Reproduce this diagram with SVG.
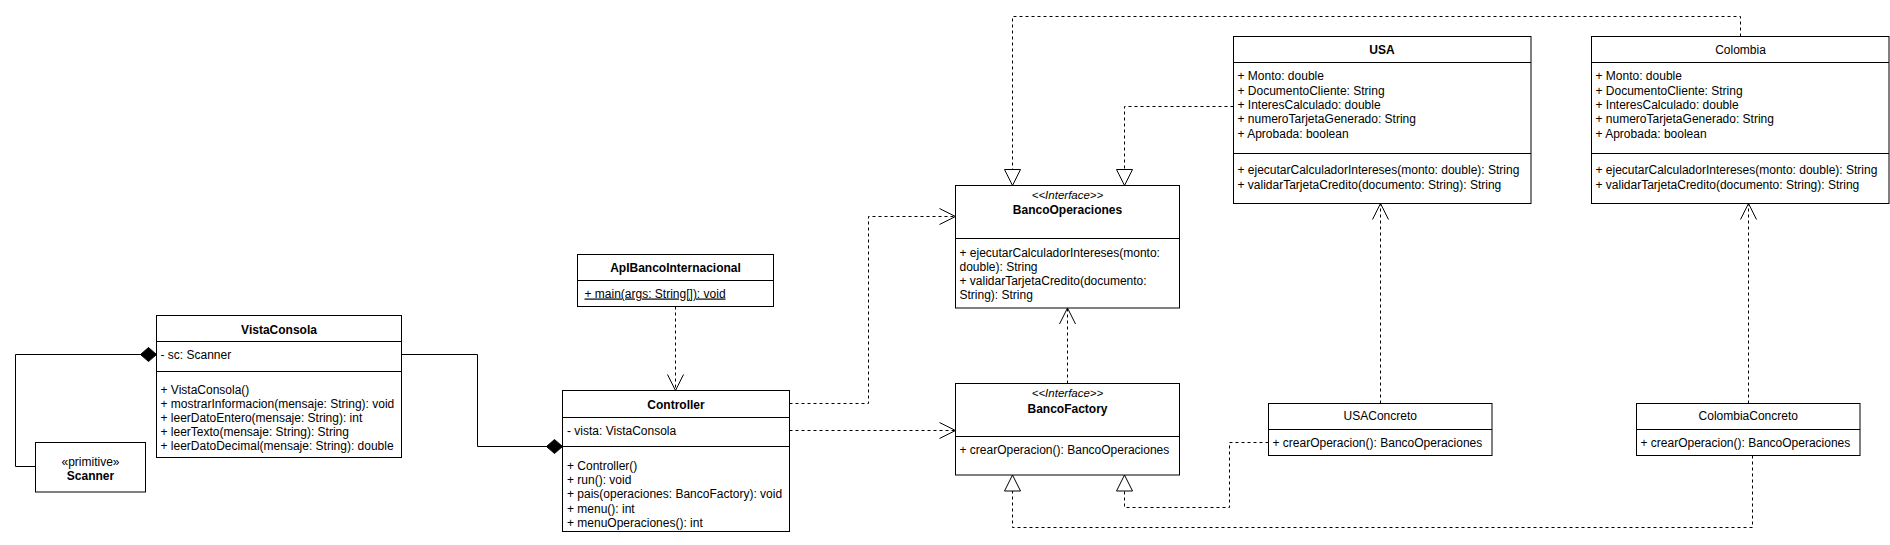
<svg xmlns="http://www.w3.org/2000/svg" width="1890" height="545" viewBox="0 0 1890 545">
<style>
text{font-family:"Liberation Sans",Arial,Helvetica,sans-serif;font-size:12px;fill:#000}
.t{text-anchor:middle;font-weight:bold}
.n{text-anchor:middle}
.st{text-anchor:middle;font-style:italic;font-size:11.5px}
.box{fill:#fff;stroke:#000;stroke-width:1}
.ln{stroke:#000;stroke-width:1;fill:none}
.c{fill:none;stroke:#000;stroke-width:1}
.d{stroke-dasharray:3 3}
.u{text-decoration:underline}
</style>
<defs>
<marker id="open" markerUnits="userSpaceOnUse" markerWidth="20" markerHeight="20" viewBox="-18 -10 20 20" refX="0" refY="0" orient="auto" overflow="visible">
<path d="M-16,-8 L0,0 L-16,8" fill="none" stroke="#000" stroke-width="1" stroke-dasharray="none"/>
</marker>
<marker id="tri" markerUnits="userSpaceOnUse" markerWidth="20" markerHeight="20" viewBox="-18 -10 20 20" refX="0" refY="0" orient="auto" overflow="visible">
<path d="M-16,-8 L0,0 L-16,8 Z" fill="#fff" stroke="#000" stroke-width="1" stroke-dasharray="none"/>
</marker>
<marker id="dia" markerUnits="userSpaceOnUse" markerWidth="20" markerHeight="20" viewBox="-18 -10 20 20" refX="0" refY="0" orient="auto" overflow="visible">
<path d="M0,0 L-8,-7 L-16,0 L-8,7 Z" fill="#000" stroke="#000" stroke-width="1" stroke-dasharray="none"/>
</marker>
</defs>
<rect width="1890" height="545" fill="#fff"/>

<g id="Scanner">
<rect class="box" x="35.5" y="442.5" width="110" height="49.5"/>
<text class="n" x="90.5" y="465.5">«primitive»</text>
<text class="t" x="90.5" y="479.5">Scanner</text>
</g>

<g id="VistaConsola">
<rect class="box" x="156.5" y="315.5" width="245" height="142"/>
<line class="ln" x1="156.5" y1="341.5" x2="401.5" y2="341.5"/>
<line class="ln" x1="156.5" y1="371.5" x2="401.5" y2="371.5"/>
<text class="t" x="279" y="333.5">VistaConsola</text>
<text x="160.5" y="358.5">- sc: Scanner</text>
<text x="160.5" y="393.6">+ VistaConsola()</text>
<text x="160.5" y="407.8">+ mostrarInformacion(mensaje: String): void</text>
<text x="160.5" y="422">+ leerDatoEntero(mensaje: String): int</text>
<text x="160.5" y="436.2">+ leerTexto(mensaje: String): String</text>
<text x="160.5" y="450.4">+ leerDatoDecimal(mensaje: String): double</text>
</g>

<g id="ApIBancoInternacional">
<rect class="box" x="577.5" y="254.5" width="196" height="52"/>
<line class="ln" x1="577.5" y1="280.5" x2="773.5" y2="280.5"/>
<text class="t" x="675.5" y="272">ApIBancoInternacional</text>
<text class="u" x="584.5" y="297.5">+ main(args: String[]): void</text>
</g>

<g id="Controller">
<rect class="box" x="562.5" y="390.5" width="227" height="141"/>
<line class="ln" x1="562.5" y1="417.5" x2="789.5" y2="417.5"/>
<line class="ln" x1="562.5" y1="446.5" x2="789.5" y2="446.5"/>
<text class="t" x="676" y="408.5">Controller</text>
<text x="567" y="435.3">- vista: VistaConsola</text>
<text x="567" y="469.6">+ Controller()</text>
<text x="567" y="483.9">+ run(): void</text>
<text x="567" y="498.2">+ pais(operaciones: BancoFactory): void</text>
<text x="567" y="512.5">+ menu(): int</text>
<text x="567" y="526.8">+ menuOperaciones(): int</text>
</g>

<g id="BancoOperaciones">
<rect class="box" x="955.5" y="185.5" width="224" height="122.5"/>
<line class="ln" x1="955.5" y1="238.5" x2="1179.5" y2="238.5"/>
<text class="st" x="1067.5" y="199">&lt;&lt;Interface&gt;&gt;</text>
<text class="t" x="1067.5" y="214.3">BancoOperaciones</text>
<text x="959.5" y="256.6">+ ejecutarCalculadorIntereses(monto:</text>
<text x="959.5" y="270.8">double): String</text>
<text x="959.5" y="285">+ validarTarjetaCredito(documento:</text>
<text x="959.5" y="299.2">String): String</text>
</g>

<g id="BancoFactory">
<rect class="box" x="955.5" y="383.5" width="224" height="91.5"/>
<line class="ln" x1="955.5" y1="436.5" x2="1179.5" y2="436.5"/>
<text class="st" x="1067.5" y="397.3">&lt;&lt;Interface&gt;&gt;</text>
<text class="t" x="1067.5" y="412.6">BancoFactory</text>
<text x="959.5" y="453.6">+ crearOperacion(): BancoOperaciones</text>
</g>

<g id="USA">
<rect class="box" x="1233.5" y="36.5" width="297.5" height="167"/>
<line class="ln" x1="1233.5" y1="62.5" x2="1531" y2="62.5"/>
<line class="ln" x1="1233.5" y1="153.5" x2="1531" y2="153.5"/>
<text class="t" x="1382" y="54.3">USA</text>
<text x="1237.5" y="80.3">+ Monto: double</text>
<text x="1237.5" y="94.6">+ DocumentoCliente: String</text>
<text x="1237.5" y="108.9">+ InteresCalculado: double</text>
<text x="1237.5" y="123.2">+ numeroTarjetaGenerado: String</text>
<text x="1237.5" y="137.5">+ Aprobada: boolean</text>
<text x="1237.5" y="174.3">+ ejecutarCalculadorIntereses(monto: double): String</text>
<text x="1237.5" y="188.6">+ validarTarjetaCredito(documento: String): String</text>
</g>

<g id="Colombia">
<rect class="box" x="1591.5" y="36.5" width="297.5" height="167"/>
<line class="ln" x1="1591.5" y1="62.5" x2="1889" y2="62.5"/>
<line class="ln" x1="1591.5" y1="153.5" x2="1889" y2="153.5"/>
<text class="n" x="1740.5" y="54.3">Colombia</text>
<text x="1595.5" y="80.3">+ Monto: double</text>
<text x="1595.5" y="94.6">+ DocumentoCliente: String</text>
<text x="1595.5" y="108.9">+ InteresCalculado: double</text>
<text x="1595.5" y="123.2">+ numeroTarjetaGenerado: String</text>
<text x="1595.5" y="137.5">+ Aprobada: boolean</text>
<text x="1595.5" y="174.3">+ ejecutarCalculadorIntereses(monto: double): String</text>
<text x="1595.5" y="188.6">+ validarTarjetaCredito(documento: String): String</text>
</g>

<g id="USAConcreto">
<rect class="box" x="1268.5" y="403.5" width="223.5" height="52"/>
<line class="ln" x1="1268.5" y1="429.5" x2="1492" y2="429.5"/>
<text class="n" x="1380.25" y="420.3">USAConcreto</text>
<text x="1272.5" y="447">+ crearOperacion(): BancoOperaciones</text>
</g>

<g id="ColombiaConcreto">
<rect class="box" x="1636.5" y="403.5" width="223.5" height="52"/>
<line class="ln" x1="1636.5" y1="429.5" x2="1860" y2="429.5"/>
<text class="n" x="1748.25" y="420.3">ColombiaConcreto</text>
<text x="1640.5" y="447">+ crearOperacion(): BancoOperaciones</text>
</g>

<g id="connectors">
<path class="c" d="M35.5,466.5 H15.5 V354.5 H156.5" marker-end="url(#dia)"/>
<path class="c" d="M401.5,354.5 H477.5 V446.5 H562.5" marker-end="url(#dia)"/>
<path class="c d" d="M675.5,306.5 V390.5" marker-end="url(#open)"/>
<path class="c d" d="M789.5,403.5 H868.5 V216.5 H955.5" marker-end="url(#open)"/>
<path class="c d" d="M789.5,430.5 H955.5" marker-end="url(#open)"/>
<path class="c d" d="M1067.5,383.5 V308" marker-end="url(#open)"/>
<path class="c d" d="M1233.5,106.5 H1124.5 V185.5" marker-end="url(#tri)"/>
<path class="c d" d="M1740.5,36.5 V16.5 H1012.5 V185.5" marker-end="url(#tri)"/>
<path class="c d" d="M1380.5,403.5 V203.5" marker-end="url(#open)"/>
<path class="c d" d="M1748.5,403.5 V203.5" marker-end="url(#open)"/>
<path class="c d" d="M1268.5,442.5 H1229.5 V507.5 H1124.5 V475" marker-end="url(#tri)"/>
<path class="c d" d="M1752.5,455.5 V527.5 H1012.5 V475" marker-end="url(#tri)"/>
</g>
</svg>
